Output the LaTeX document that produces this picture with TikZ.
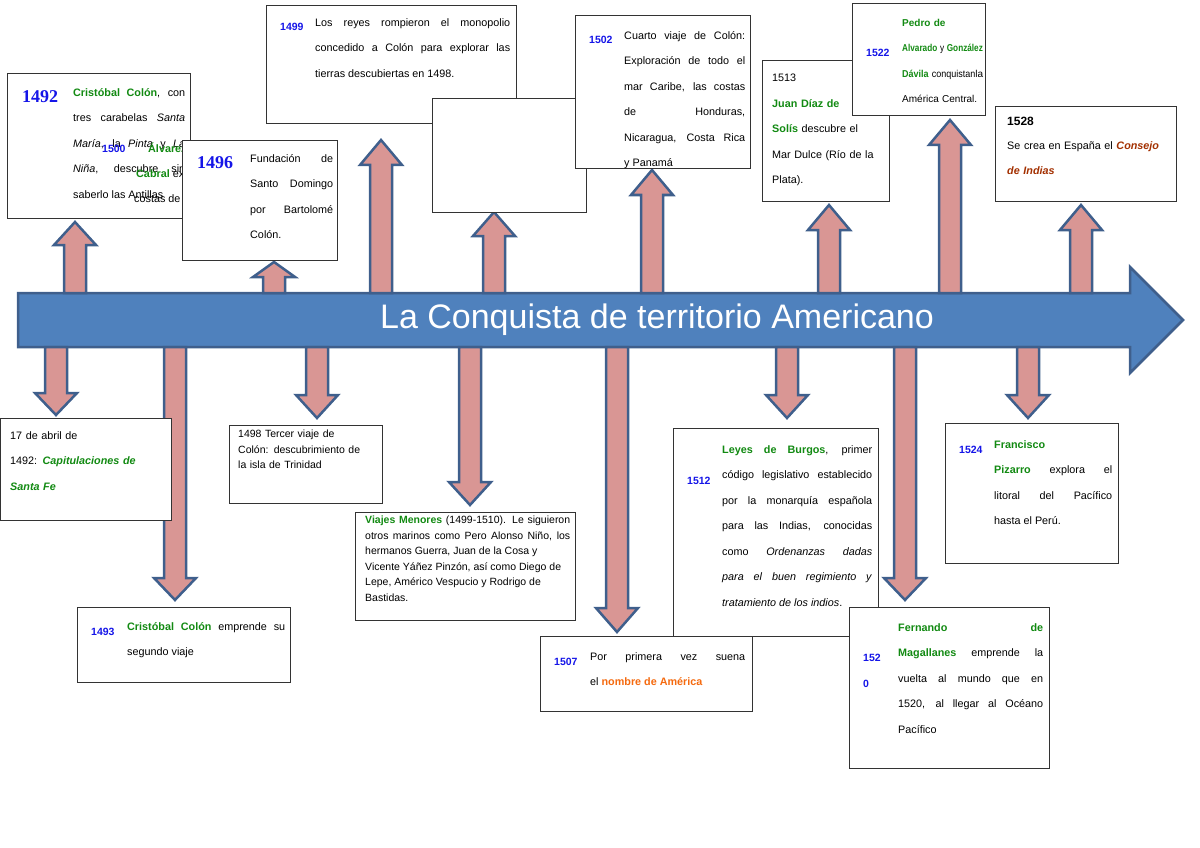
\documentclass[tikz,border=0pt]{standalone}
\usepackage{fontspec}
\setmainfont{Liberation Sans}
\newfontfamily\yrfont{Liberation Serif}
\definecolor{yb}{HTML}{1515E8}
\definecolor{yg}{HTML}{128A12}
\definecolor{ydr}{HTML}{A33000}
\definecolor{yor}{HTML}{F56A0F}
\definecolor{pinkf}{HTML}{D99694}
\definecolor{bordb}{HTML}{3F5F8C}
\definecolor{axisf}{HTML}{4F81BD}
\tikzset{
 boxr/.style={draw=black!80,fill=white,line width=0.8pt},
 txt/.style={anchor=north west,inner sep=0pt,align=justify,font=\fontsize{10.8}{25.5}\selectfont},
 txts/.style={anchor=north west,inner sep=0pt,align=left,font=\fontsize{10.5}{15.5}\selectfont},
 yr/.style={anchor=base west,inner sep=0pt,text=yb,font=\fontsize{10.5}{12}\selectfont\bfseries},
 bigyr/.style={anchor=base west,inner sep=0pt,text=yb,font=\yrfont\fontsize{18}{20}\selectfont\bfseries},
 arr/.style={fill=pinkf,draw=bordb,line width=2.5pt,line join=miter}
}
\newcommand\gb[1]{\textcolor{yg}{\textbf{#1}}}
\newcommand\UpArr[4]{% x, tip, headbase, bottom
 \path[arr] (#1-11,#4) -- (#1-11,#3) -- (#1-21,#3) -- (#1,#2) -- (#1+21,#3) -- (#1+11,#3) -- (#1+11,#4) -- cycle;}
\begin{document}
\begin{tikzpicture}[x=1pt,y=-1pt]
\useasboundingbox (0,0) rectangle (1200,848);
\hyphenpenalty=10000 \emergencystretch=3em \hbadness=10000 \hfuzz=50pt
% axis
\path[fill=axisf,draw=bordb,line width=2.5pt] (18,293) -- (1130,293) -- (1130,267) -- (1183,320) -- (1130,373) -- (1130,347) -- (18,347) -- cycle;
\node (title) at (657,320) {\textcolor{white}{\fontsize{34}{36}\selectfont La Conquista de territorio Americano}};
% up arrows
\UpArr{75}{222}{245}{293}
\UpArr{274}{262}{277}{293}
\UpArr{381}{140}{165}{293}
\UpArr{494}{212}{236}{293}
\UpArr{652}{170}{195}{293}
\UpArr{829}{205}{230}{293}
\UpArr{950}{120}{145}{293}
\UpArr{1081}{205}{230}{293}
% down arrows
\UpArr{56}{415}{393}{347}
\UpArr{175}{600}{578}{347}
\UpArr{317}{418}{395}{347}
\UpArr{470}{505}{482}{347}
\UpArr{617}{632}{608}{347}
\UpArr{787}{418}{395}{347}
\UpArr{905}{600}{578}{347}
\UpArr{1028}{418}{395}{347}
% A 1492
\draw[boxr] (7,73) rectangle (190,218);
\node[bigyr] (a1) at (22,103) {1492};
\node[txt,text width=112pt] (a2) at (73,88) {\gb{Cristóbal Colón}, con\linebreak tres carabelas \textit{Santa}\linebreak \textit{María}, la \textit{Pinta} y \textit{La}\linebreak \textit{Niña}, descubre sin\linebreak saberlo las Antillas};
\node[yr] (a3) at (102,153) {1500};
\node[anchor=base west,inner sep=0pt,font=\fontsize{10.8}{12}\selectfont] (a4) at (148,153) {\gb{Álvarez}};
\node[anchor=base west,inner sep=0pt,font=\fontsize{10.8}{12}\selectfont] (a5) at (136,178) {\gb{Cabral} explora las};
\node[anchor=base west,inner sep=0pt,font=\fontsize{10.8}{12}\selectfont] (a6) at (134,203) {costas de Brasil};
% B 1496
\draw[boxr] (182,140) rectangle (337,260);
\node[bigyr] (b1) at (197,168) {1496};
\node[txt,text width=83pt] (b2) at (250,154) {Fundación de\linebreak Santo Domingo\linebreak por Bartolomé\linebreak Colón.};
% C 1499
\draw[boxr] (266,5) rectangle (516,123);
\node[yr] (c1) at (280,31) {1499};
\node[txt,text width=195pt] (c2) at (315,18) {Los reyes rompieron el monopolio\linebreak concedido a Colón para explorar las\linebreak tierras descubiertas en 1498.};
% D empty
\draw[boxr] (432,98) rectangle (586,212);
% E 1502
\draw[boxr] (575,15) rectangle (750,168);
\node[yr] (e1) at (589,44) {1502};
\node[txt,text width=121pt] (e2) at (624,31) {Cuarto viaje de Colón:\linebreak Exploración de todo el\linebreak mar Caribe, las costas\linebreak de Honduras,\linebreak Nicaragua, Costa Rica\linebreak y Panamá};
% F 1513
\draw[boxr] (762,60) rectangle (889,201);
\node[txt,align=left,text width=112pt] (f1) at (772,74) {1513\\ \gb{Juan Díaz de}\\ \gb{Solís} descubre el\\ Mar Dulce (Río de la\\ Plata).};
% G 1522
\draw[boxr] (852,3) rectangle (985,115);
\node[yr] (g1) at (866,57) {1522};
\node[txt,align=left,text width=78pt,font=\fontsize{10}{25.5}\selectfont] (g2) at (902,19) {\makebox[78pt][s]{\gb{Pedro} \gb{de}}\\ \makebox[78pt][l]{\scalebox{0.82}[1]{\gb{Alvarado} y \gb{González}}}\\ \makebox[78pt][s]{\scalebox{0.9}[1]{\gb{Dávila} conquistan}\hfill la}\\ América Central.};
% H 1528
\draw[boxr] (995,106) rectangle (1176,201);
\node[anchor=base west,inner sep=0pt,font=\fontsize{12}{14}\selectfont\bfseries] (h1) at (1007,126) {1528};
\node[txt,align=left,text width=165pt] (h2) at (1007,141) {Se crea en España el \textcolor{ydr}{\textbf{\textit{Consejo}}}\\ \textcolor{ydr}{\textbf{\textit{de Indias}}}};
% I
\draw[boxr] (0,418) rectangle (171,520);
\node[txt,align=left,text width=150pt] (i1) at (10,431) {17 de abril de\\ 1492: \gb{\textit{Capitulaciones de}}\\ \gb{\textit{Santa Fe}}};
% J 1498
\draw[boxr] (229,425) rectangle (382,503);
\node[txts,text width=142pt] (j1) at (238,430) {1498 Tercer viaje de\\ Colón: descubrimiento de\\ la isla de Trinidad};
% K
\draw[boxr] (355,512) rectangle (575,620);
\node[txts,align=justify,text width=205pt] (k1) at (365,516) {\gb{Viajes Menores} (1499-1510). Le siguieron\linebreak otros marinos como Pero Alonso Niño, los\linebreak hermanos Guerra, Juan de la Cosa y\\ Vicente Yáñez Pinzón, así como Diego de\\ Lepe, Américo Vespucio y Rodrigo de\\ Bastidas.};
% N 1512
\draw[boxr] (673,428) rectangle (878,636);
\node[yr] (n1) at (687,484) {1512};
\node[txt,text width=150pt] (n2) at (722,445) {\gb{Leyes de Burgos}, primer\linebreak código legislativo establecido\linebreak por la monarquía española\linebreak para las Indias, conocidas\linebreak como \textit{Ordenanzas dadas}\linebreak \textit{para el buen regimiento y}\linebreak \textit{tratamiento de los indios}.};
% L 1493
\draw[boxr] (77,607) rectangle (290,682);
\node[yr] (l1) at (91,635) {1493};
\node[txt,text width=158pt] (l2) at (127,622) {\gb{Cristóbal Colón} emprende su\linebreak segundo viaje};
% M 1507
\draw[boxr] (540,636) rectangle (752,711);
\node[yr] (m1) at (554,665) {1507};
\node[txt,text width=155pt] (m2) at (590,652) {Por primera vez suena\linebreak el \textcolor{yor}{\textbf{nombre de América}}};
% O 1520
\draw[boxr] (849,607) rectangle (1049,768);
\node[yr] (o1) at (863,661) {152};
\node[yr] (o0) at (863,687) {0};
\node[txt,text width=145pt] (o2) at (898,623) {\gb{Fernando de}\linebreak \gb{Magallanes} emprende la\linebreak vuelta al mundo que en\linebreak 1520, al llegar al Océano\linebreak Pacífico};
% P 1524
\draw[boxr] (945,423) rectangle (1118,563);
\node[yr] (p1) at (959,453) {1524};
\node[txt,text width=118pt] (p2) at (994,440) {\gb{Francisco}\\ \gb{Pizarro} explora el\linebreak litoral del Pacífico\linebreak hasta el Perú.};
\end{tikzpicture}
\end{document}
